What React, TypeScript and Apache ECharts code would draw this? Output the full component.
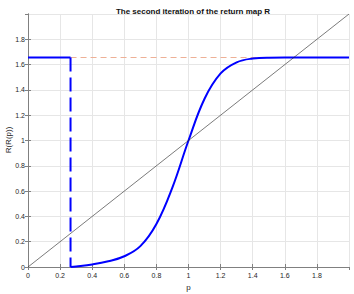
import React, { useEffect, useRef } from "react";
import * as echarts from "echarts";

const pValues = [0.265, 0.3, 0.4, 0.5, 0.6, 0.7, 0.8, 0.9, 1.0, 1.1, 1.2, 1.3, 1.4, 1.5, 1.7, 2.0];
const r2Values = [0, 0.004, 0.02, 0.045, 0.085, 0.165, 0.34, 0.63, 1.0, 1.33, 1.53, 1.618, 1.648, 1.655, 1.656, 1.656];
const plateau = 1.656;
const jumpP = 0.265;
const xTicks = ["0", "0.2", "0.4", "0.6", "0.8", "1", "1.2", "1.4", "1.6", "1.8"];
const yTicks = ["0", "0.2", "0.4", "0.6", "0.8", "1", "1.2", "1.4", "1.6", "1.8"];
const title = "The second iteration of the return map R";
const xName = "p";
const yName = "R(R(p))";

export default function App() {
  const ref = useRef<HTMLDivElement>(null);
  useEffect(() => {
    if (!ref.current) return;
    const chart = echarts.init(ref.current, undefined, { renderer: "svg" });
    const font = "Liberation Sans, Arial, Helvetica, sans-serif";
    const axisColor = "#808080";
    const textColor = "#262626";
    const labelStyle = { fontSize: 7, color: textColor, fontFamily: font };
    const fmt = (v: number) => {
      const i = Math.round(v / 0.2);
      return i < xTicks.length ? xTicks[i] : "";
    };
    const fmtY = (v: number) => {
      const i = Math.round(v / 0.2);
      return i < yTicks.length ? yTicks[i] : "";
    };
    const baseAxis = {
      type: "value" as const,
      min: 0,
      max: 2,
      interval: 0.2,
      axisLine: { show: true, lineStyle: { color: axisColor, width: 1 } },
      axisTick: { show: true, inside: true, length: 3, lineStyle: { color: axisColor } },
    };
    chart.setOption({
      animation: false,
      title: {
        text: title,
        left: 188,
        textAlign: "center",
        top: 2,
        textStyle: { fontSize: 8, fontWeight: "bold", color: "#111", fontFamily: font },
      },
      graphic: [
        {
          type: "text",
          x: 8,
          y: 140,
          rotation: Math.PI / 2,
          style: {
            text: yName,
            fontSize: 8,
            fill: textColor,
            fontFamily: font,
            align: "center",
            verticalAlign: "middle",
          },
        },
      ],
      grid: { left: 28, right: 5, top: 14, bottom: 27, containLabel: false, outerBoundsMode: "none" },
      xAxis: [
        {
          ...baseAxis,
          position: "bottom",
          name: xName,
          nameLocation: "middle",
          nameGap: 15,
          nameTextStyle: { fontSize: 8, color: textColor, fontFamily: font },
          axisLabel: { ...labelStyle, margin: 5, formatter: fmt, showMaxLabel: false },
          splitLine: { show: true, lineStyle: { color: "#e6e6e6", width: 1 } },
        },
        {
          ...baseAxis,
          position: "top",
          axisLabel: { show: false },
          splitLine: { show: false },
        },
      ],
      yAxis: [
        {
          ...baseAxis,
          position: "left",
          axisLabel: { ...labelStyle, margin: 3, formatter: fmtY, showMaxLabel: false },
          splitLine: { show: true, lineStyle: { color: "#e6e6e6", width: 1 } },
        },
        {
          ...baseAxis,
          position: "right",
          axisLabel: { show: false },
          splitLine: { show: false },
        },
      ],
      series: [
        {
          type: "line",
          data: [[jumpP, plateau], [1.5, plateau]],
          symbol: "none",
          lineStyle: { color: "#eeb096", width: 1.2, type: [6, 4] },
          z: 1,
        },
        {
          type: "line",
          data: [[0, plateau], [jumpP, plateau]],
          symbol: "none",
          lineStyle: { color: "#0000ff", width: 2 },
          z: 2,
        },
        {
          type: "line",
          data: [[jumpP, plateau], [jumpP, 0]],
          symbol: "none",
          lineStyle: { color: "#0000ff", width: 2, type: [14, 6] },
          z: 2,
        },
        {
          type: "line",
          data: pValues.map((p, i) => [p, r2Values[i]]),
          symbol: "none",
          smooth: 0.4,
          lineStyle: { color: "#0000ff", width: 2 },
          z: 2,
        },
        {
          type: "line",
          data: [[0, 0], [2, 2]],
          symbol: "none",
          lineStyle: { color: "#222", width: 0.6 },
          z: 3,
        },
      ],
    });
    return () => chart.dispose();
  }, []);
  return <div ref={ref} style={{ width: 354, height: 294, position: "absolute", left: 0, top: 0 }} />;
}
